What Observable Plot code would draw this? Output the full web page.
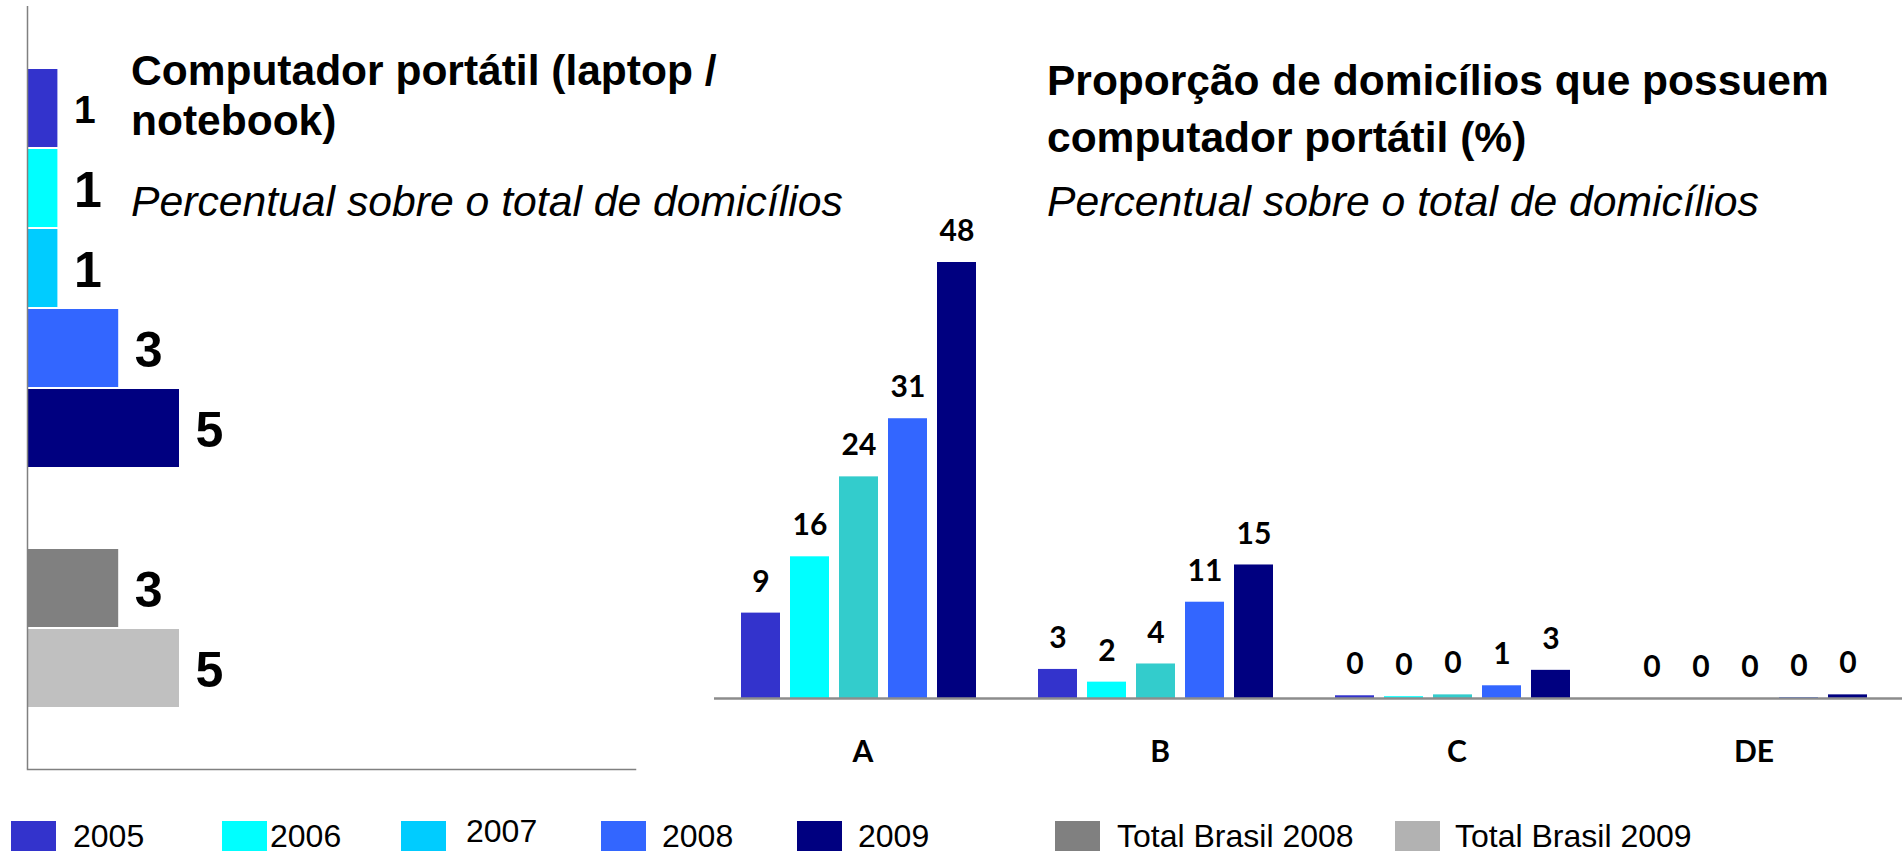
<!DOCTYPE html>
<html>
<head>
<meta charset="utf-8">
<script src="https://cdn.jsdelivr.net/npm/d3@7"></script>
<script src="https://cdn.jsdelivr.net/npm/@observablehq/plot@0.6"></script>
<style>
  html, body { margin: 0; padding: 0; background: #fff; }
  #root { position: relative; width: 1904px; height: 853px; overflow: hidden; font-family: "Liberation Sans", Arial, sans-serif; color: #000; }
  .abs { position: absolute; white-space: nowrap; }
  .title { font-size: 42.5px; font-weight: bold; }
  .sub { font-size: 42.7px; font-style: italic; line-height: 50px; }
  .leg-sw { position: absolute; width: 45px; height: 30px; }
  .leg-tx { position: absolute; font-size: 32px; line-height: 30px; white-space: nowrap; }
</style>
</head>
<body>
<div id="root"></div>
<script>
// ---------------- DATA ----------------
const years = ["2005", "2006", "2007", "2008", "2009"];
const totals = ["Total Brasil 2008", "Total Brasil 2009"];

// Left panel: Computador portátil (laptop / notebook), % of households
const leftYearValues = [1, 1, 1, 3, 5];
const leftTotalValues = [3, 5];

// Right panel: by social class
const classes = ["A", "B", "C", "DE"];
const valuesA = [9.4, 15.6, 24.4, 30.8, 48.0];
const valuesB = [3.2, 1.8, 3.8, 10.6, 14.7];
const valuesC = [0.3, 0.2, 0.4, 1.4, 3.1];
const valuesDE = [0.0, 0.0, 0.0, 0.1, 0.4];

const leftTitle = ["Computador portátil (laptop /", "notebook)"];
const rightTitle = ["Proporção de domicílios que possuem", "computador portátil (%)"];
const subtitle = "Percentual sobre o total de domicílios";

// ---------------- STYLES ----------------
const yearColors = ["#3333CC", "#00FFFF", "#00CCFF", "#3366FF", "#000080"];
const rightYearColors = ["#3333CC", "#00FFFF", "#33CCCC", "#3366FF", "#000080"];
const totalColors = ["#808080", "#C0C0C0"];
const legendTotalColors = ["#808080", "#B2B2B2"];
const FONT = "Liberation Sans, Arial, sans-serif";
const LABEL_FONT = "Lato, Open Sans, sans-serif";

const root = document.getElementById("root");

// ---------------- LEFT CHART ----------------
const gapKey = " ";
const leftRows = [
  ...years.map((k, i) => ({key: k, value: leftYearValues[i], fill: yearColors[i]})),
  ...totals.map((k, i) => ({key: k, value: leftTotalValues[i], fill: totalColors[i]}))
];
const leftDomain = [...years, gapKey, ...totals];

const left = Plot.plot({
  width: 640,
  height: 775,
  marginLeft: 27,
  marginRight: 5,
  marginTop: 6,
  marginBottom: 6,
  style: {fontFamily: FONT, background: "transparent", overflow: "visible"},
  x: {domain: [0, 20], axis: null},
  y: {domain: leftDomain, paddingInner: 0.03, paddingOuter: 0.74, axis: null},
  marks: [
    Plot.barX(leftRows, {x: "value", y: "key", fill: d => d.fill}),
    Plot.text(leftRows, {
      x: "value", y: "key", text: d => String(Math.round(d.value)),
      dx: 16, dy: 2, textAnchor: "start",
      fontSize: d => d.key === "2005" ? 39 : 50,
      fontWeight: "bold", fill: "#000"
    }),
    Plot.ruleX([0], {stroke: "#808080", strokeWidth: 1.5}),
    Plot.frame({anchor: "bottom", stroke: "#808080", strokeWidth: 1.5})
  ]
});
left.style.position = "absolute";
left.style.left = "0px";
left.style.top = "0px";
root.appendChild(left);

// ---------------- RIGHT CHART ----------------
const classValues = [valuesA, valuesB, valuesC, valuesDE];
const rightRows = classes.flatMap((c, ci) =>
  years.map((y, yi) => ({group: c, year: y, value: classValues[ci][yi]}))
);

const right = Plot.plot({
  width: 1204,
  height: 790,
  marginLeft: 14,
  marginRight: 2,
  marginTop: 153,
  marginBottom: 92,
  style: {fontFamily: LABEL_FONT, background: "transparent", overflow: "visible"},
  fx: {domain: classes, padding: 0, label: null},
  x: {domain: years, paddingInner: 0.2, paddingOuter: 0.6, align: 0.44, axis: null},
  y: {domain: [0, 60], axis: null},
  color: {domain: years, range: rightYearColors},
  marks: [
    Plot.barY(rightRows, {fx: "group", x: "year", y: "value", fill: "year"}),
    Plot.ruleY([0], {stroke: "#8c8c8c", strokeWidth: 2.5}),
    Plot.text(rightRows, {
      fx: "group", x: "year", y: "value",
      text: d => String(Math.round(d.value)),
      dy: -31, lineAnchor: "middle",
      fontSize: 30, fontWeight: "bold", fontFamily: LABEL_FONT, fill: "#000"
    }),
    Plot.axisFx({anchor: "bottom", tickSize: 0, tickPadding: 42, label: null,
      fontSize: 30, fontWeight: "bold", fontFamily: LABEL_FONT, fill: "#000"})
  ]
});
right.style.position = "absolute";
right.style.left = "700px";
right.style.top = "0px";
root.appendChild(right);

// ---------------- TITLES ----------------
function addDiv(cls, text, left, top, lh) {
  const d = document.createElement("div");
  d.className = "abs " + cls;
  d.textContent = text;
  d.style.left = left + "px";
  d.style.top = top + "px";
  if (lh) d.style.lineHeight = lh + "px";
  root.appendChild(d);
  return d;
}
leftTitle.forEach((t, i) => addDiv("title", t, 131, 46 + i * 50, 50));
addDiv("sub", subtitle, 131, 176);
rightTitle.forEach((t, i) => addDiv("title", t, 1047, 52 + i * 57, 57));
addDiv("sub", subtitle, 1047, 176);

// ---------------- LEGEND ----------------
const legendLabels = [...years, ...totals];
const legendColors = [...yearColors, ...legendTotalColors];
const legendLayout = [
  [11, 73, 0], [222, 270, 0], [401, 466, -5], [601, 662, 0],
  [797, 858, 0], [1055, 1117, 0], [1395, 1455, 0]
];
legendLabels.forEach((lab, i) => {
  const [sx, tx, dy] = legendLayout[i];
  const sw = document.createElement("div");
  sw.className = "leg-sw";
  sw.style.left = sx + "px";
  sw.style.top = "821px";
  sw.style.background = legendColors[i];
  root.appendChild(sw);
  const tx_ = document.createElement("div");
  tx_.className = "leg-tx";
  tx_.style.left = tx + "px";
  tx_.style.top = (821 + dy) + "px";
  tx_.textContent = lab;
  root.appendChild(tx_);
});
</script>
</body>
</html>
